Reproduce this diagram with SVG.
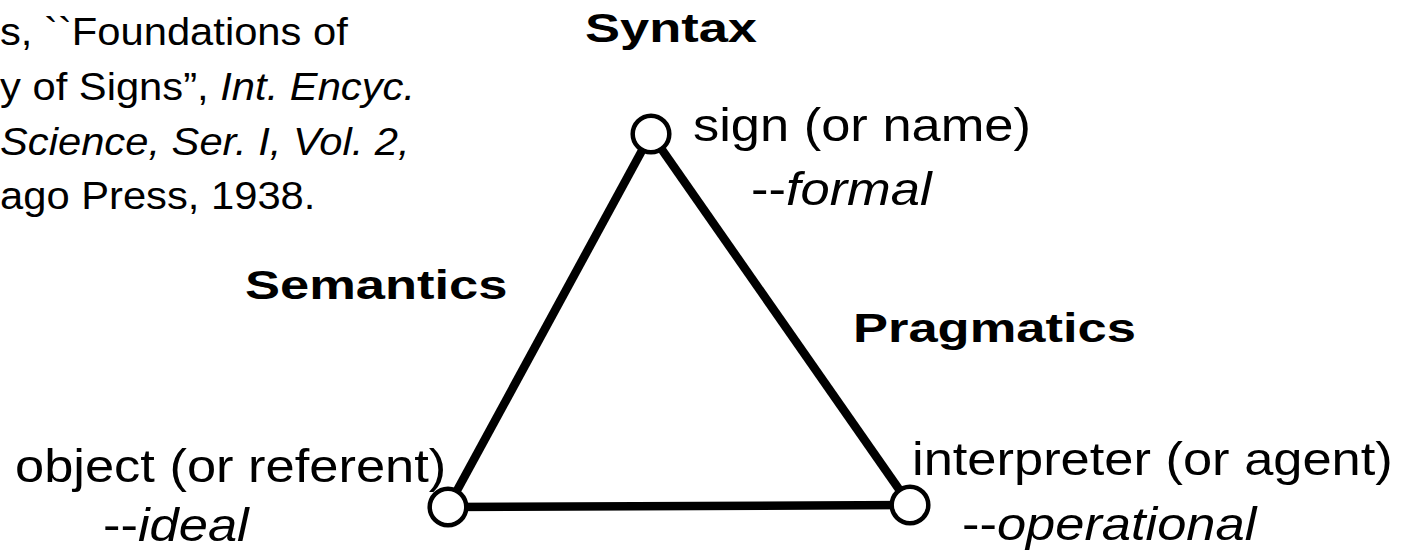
<svg xmlns="http://www.w3.org/2000/svg" width="1405" height="559" viewBox="0 0 1405 559">
<style>
.t{font-family:"Liberation Sans",Arial,sans-serif;font-size:46px;fill:#000}
.b{font-family:"Liberation Sans",Arial,sans-serif;font-size:41px;font-weight:bold;fill:#000}
.i{font-style:italic}
.c{font-family:"Liberation Sans",Arial,sans-serif;font-size:39px;fill:#000}
.edge{stroke:#000;stroke-width:8.5;fill:none}
.node{stroke:#000;stroke-width:4.5;fill:#fff}
</style>
<rect width="1405" height="559" fill="#fff"/>
<g id="citation">
<text class="c" transform="matrix(1.07 0 0 1 0 45)">s, ``Foundations of</text>
<text class="c" transform="matrix(1.07 0 0 1 0 100)">y of Signs”, <tspan class="i">Int. Encyc.</tspan></text>
<text class="c i" transform="matrix(1.07 0 0 1 0 155)">Science, Ser. I, Vol. 2,</text>
<text class="c" transform="matrix(1.07 0 0 1 0 209)">ago Press, 1938.</text>
</g>
<g id="connectors">
<line class="edge" x1="651" y1="134" x2="448" y2="507"/>
<line class="edge" x1="651" y1="134" x2="910" y2="505"/>
<line class="edge" x1="448" y1="507" x2="910" y2="505"/>
</g>
<g id="sign">
<circle class="node" cx="651" cy="134" r="18.3"/>
<text class="t" transform="matrix(1.14 0 0 1 693 141)">sign (or name)</text>
<text class="t" transform="matrix(1.14 0 0 1 751 205)">--<tspan class="i">formal</tspan></text>
</g>
<g id="object">
<circle class="node" cx="448" cy="507" r="18.3"/>
<text class="t" transform="matrix(1.14 0 0 1 15 482)">object (or referent)</text>
<text class="t" transform="matrix(1.14 0 0 1 103 541)">--<tspan class="i">ideal</tspan></text>
</g>
<g id="interpreter">
<circle class="node" cx="910" cy="505" r="18.3"/>
<text class="t" transform="matrix(1.14 0 0 1 912 475)">interpreter (or agent)</text>
<text class="t" transform="matrix(1.14 0 0 1 962 540)">--<tspan class="i">operational</tspan></text>
</g>
<g id="labels">
<text class="b" transform="matrix(1.28 0 0 1 585 42)">Syntax</text>
<text class="b" transform="matrix(1.28 0 0 1 245 299)">Semantics</text>
<text class="b" transform="matrix(1.28 0 0 1 853 342)">Pragmatics</text>
</g>
</svg>
